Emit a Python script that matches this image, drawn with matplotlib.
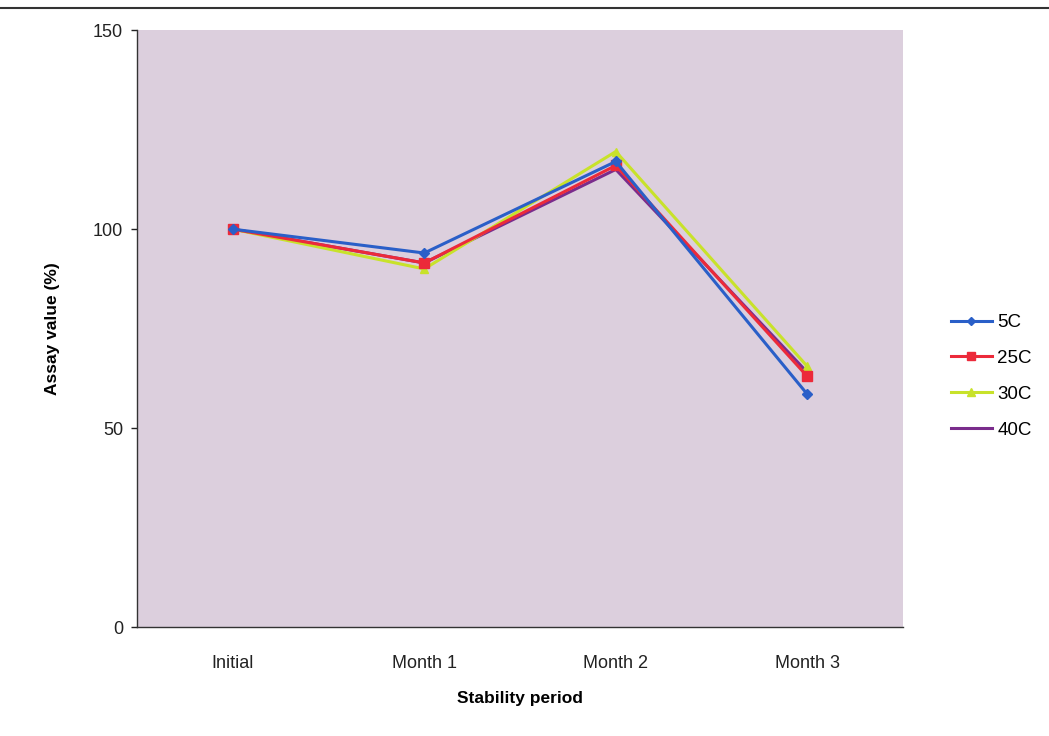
import matplotlib.pyplot as plt
from matplotlib.lines import Line2D

plt.rcParams['font.family'] = ['Liberation Sans', 'DejaVu Sans']

periods = ["Initial", "Month 1", "Month 2", "Month 3"]
assay_5c = [100, 94, 117, 58.5]
assay_25c = [100, 91.5, 116, 63]
assay_30c = [100, 90, 119.5, 65.5]
assay_40c = [100, 91.5, 115, 64]

series = [
    ("5C", assay_5c, '#2a5fc8', 'D', 5),
    ("25C", assay_25c, '#ec2a3a', 's', 7),
    ("30C", assay_30c, '#c8e22a', '^', 6),
    ("40C", assay_40c, '#7a2c8c', None, 0),
]

fig = plt.figure(figsize=(10.49, 7.36), dpi=100)
ax = fig.add_axes([0.1306, 0.148, 0.7303, 0.811])
ax.set_facecolor('#dccfdd')

x = range(len(periods))
for name, vals, col, mk, ms in reversed(series):
    ax.plot(x, vals, color=col, lw=2.2, marker=mk, markersize=ms, label=name, zorder=3)

ax.set_xlim(-0.5, 3.5)
ax.set_ylim(0, 150)
ax.set_yticks([0, 50, 100, 150])
ax.set_xticks(list(x))
ax.set_xticklabels(periods)
ax.tick_params(axis='both', labelsize=13, colors='#222222', length=4, width=1)
ax.tick_params(axis='y', pad=6)
ax.tick_params(axis='x', length=0, pad=20)
for side in ['top', 'right']:
    ax.spines[side].set_visible(False)
for side in ['left', 'bottom']:
    ax.spines[side].set_color('#333333')
    ax.spines[side].set_linewidth(1)

ax.set_xlabel("Stability period", fontsize=12.5, fontweight='bold', labelpad=14)
ax.set_ylabel("Assay value (%)", fontsize=12.5, fontweight='bold', labelpad=24)

handles = [Line2D([], [], color=c, lw=2.2, marker=m, markersize=ms * 0.9)
           for _, _, c, m, ms in series]
ax.legend(handles, [s[0] for s in series], loc='center left',
          bbox_to_anchor=(1.04, 0.42), frameon=False, fontsize=13.5,
          handlelength=2.2, labelspacing=1.0, handletextpad=0.3)

# frame line across the top of the sheet
fig.add_artist(Line2D([0.0, 1.0], [0.989, 0.989], transform=fig.transFigure,
                      color='#333333', lw=1.5))

fig.savefig("out.png", dpi=100, facecolor='white')
